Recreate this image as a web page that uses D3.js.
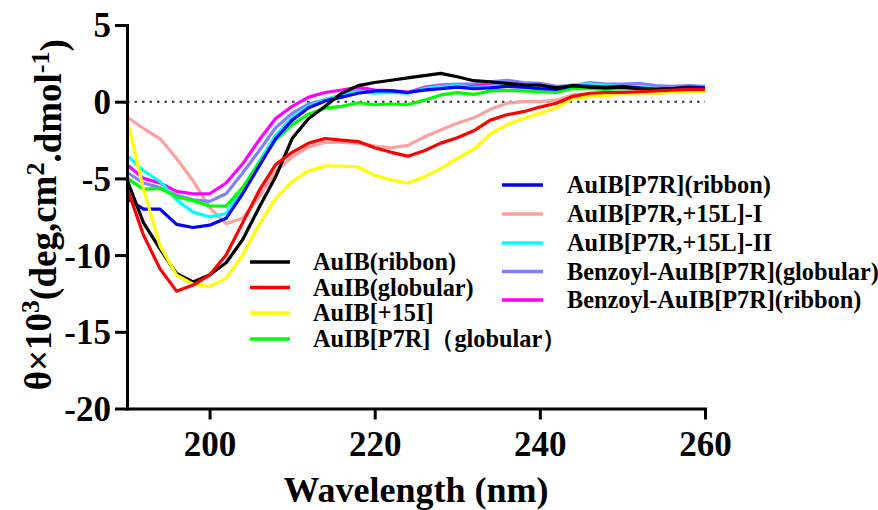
<!DOCTYPE html>
<html>
<head>
<meta charset="utf-8">
<script src="https://cdn.jsdelivr.net/npm/d3@7"></script>
<style>
  html, body { margin: 0; padding: 0; background: #fff; }
  svg text { font-family: "Liberation Serif", "Times New Roman", serif; font-weight: bold; fill: #000; }
</style>
</head>
<body>
<svg id="chart" width="878" height="510"></svg>
<script>
// ---- data ----
const wavelengths = [190,192,194,196,198,200,202,204,206,208,210,212,214,216,218,220,222,224,226,228,230,232,234,236,238,240,242,244,246,248,250,252,254,256,258,260];

const auibRibbon = [-5.1,-7.9,-9.6,-11.2,-11.75,-11.3,-10.5,-9.0,-6.9,-4.9,-2.4,-1.1,-0.3,0.55,1.05,1.25,1.4,1.55,1.7,1.85,1.63,1.37,1.3,1.2,1.1,1.09,0.9,1.05,0.95,0.9,0.95,0.85,0.8,0.85,0.9,0.85];
const auibGlobular = [-5.6,-8.7,-10.9,-12.35,-11.95,-11.3,-10.0,-7.9,-5.8,-4.1,-3.3,-2.7,-2.4,-2.5,-2.6,-3.0,-3.3,-3.55,-3.2,-2.7,-2.35,-1.9,-1.2,-0.85,-0.65,-0.35,-0.1,0.35,0.55,0.6,0.6,0.65,0.7,0.75,0.8,0.8];
const auib15I = [-1.1,-5.7,-9.4,-11.3,-11.9,-12.05,-11.5,-10.0,-8.0,-6.3,-5.2,-4.5,-4.2,-4.2,-4.25,-4.8,-5.1,-5.3,-4.9,-4.35,-3.7,-3.1,-2.1,-1.5,-1.1,-0.75,-0.4,0.2,0.35,0.4,0.5,0.55,0.55,0.6,0.65,0.65];
const p7rGlobular = [-5.0,-5.7,-5.65,-6.2,-6.45,-6.8,-6.8,-5.6,-4.0,-2.5,-1.5,-0.8,-0.42,-0.3,-0.07,-0.2,-0.15,-0.2,0.1,0.44,0.59,0.48,0.7,0.74,0.7,0.65,0.6,0.87,0.85,0.8,0.85,0.85,0.8,0.8,0.85,0.85];
const p7rRibbon = [-6.3,-7.0,-7.0,-8.0,-8.2,-8.05,-7.6,-6.0,-4.2,-2.4,-1.2,-0.4,0.05,0.3,0.55,0.7,0.7,0.6,0.75,0.85,0.95,0.85,0.9,1.0,0.95,0.85,0.8,1.05,1.0,0.95,1.0,0.9,0.8,0.85,0.95,0.9];
const p7r15L_I = [-1.0,-1.75,-2.4,-3.7,-5.15,-6.9,-7.95,-7.6,-6.2,-4.55,-3.6,-2.95,-2.65,-2.65,-2.7,-2.9,-3.0,-2.85,-2.3,-1.85,-1.4,-1.05,-0.5,-0.1,0.0,0.0,0.1,0.45,0.5,0.55,0.65,0.6,0.55,0.6,0.65,0.7];
const p7r15L_II = [-3.5,-4.5,-5.2,-6.4,-7.2,-7.5,-7.3,-5.7,-3.9,-2.2,-1.0,-0.3,0.15,0.4,0.65,0.55,0.6,0.55,0.85,1.0,1.05,0.9,1.0,1.05,0.95,0.87,0.87,1.1,1.15,1.05,1.0,0.95,0.85,0.85,0.9,0.9];
const benzGlobular = [-4.6,-5.3,-5.6,-6.1,-6.4,-6.5,-6.0,-4.65,-3.2,-1.7,-0.75,-0.15,0.12,0.45,0.75,0.7,0.65,0.55,0.95,1.1,1.15,1.15,1.3,1.4,1.25,1.2,1.0,1.05,1.24,1.15,1.15,1.2,1.05,1.0,1.05,1.0];
const benzRibbon = [-4.1,-5.0,-5.3,-5.85,-6.0,-6.0,-5.3,-4.05,-2.5,-1.1,-0.3,0.3,0.6,0.76,0.95,0.76,0.72,0.62,0.9,1.04,0.98,0.98,1.15,1.0,0.96,0.98,0.81,1.05,1.05,0.98,0.94,0.9,0.8,0.85,0.87,0.81];

const seriesNames = ["AuIB(ribbon)","AuIB(globular)","AuIB[+15I]","AuIB[P7R]（globular）","AuIB[P7R](ribbon)","AuIB[P7R,+15L]-I","AuIB[P7R,+15L]-II","Benzoyl-AuIB[P7R](globular)","Benzoyl-AuIB[P7R](ribbon)"];
const seriesColors = ["#000000","#ff0000","#ffff00","#00ff00","#0000ff","#ffa0a0","#00ffff","#8080ff","#ff00ff"];
const seriesValues = [auibRibbon, auibGlobular, auib15I, p7rGlobular, p7rRibbon, p7r15L_I, p7r15L_II, benzGlobular, benzRibbon];

const xTicks = [200, 220, 240, 260];
const yTicks = [-20, -15, -10, -5, 0, 5];

// ---- layout ----
const svg = d3.select("#chart");
const x = d3.scaleLinear().domain([190, 260]).range([127, 705]);
const y = d3.scaleLinear().domain([-20, 5]).range([408.5, 25]);

// zero dotted line
svg.append("line")
  .attr("x1", x(190)).attr("x2", x(260))
  .attr("y1", y(0)).attr("y2", y(0))
  .attr("stroke", "#333").attr("stroke-width", 2)
  .attr("stroke-dasharray", "2.5,5");

// lines
const line = d3.line().x((d, i) => x(wavelengths[i])).y(d => y(d));
const drawOrder = [5, 7, 8, 6, 3, 4, 0, 2, 1];
drawOrder.forEach(k => {
  svg.append("path")
    .datum(seriesValues[k])
    .attr("fill", "none")
    .attr("stroke", seriesColors[k])
    .attr("stroke-width", 3.2)
    .attr("stroke-linejoin", "round")
    .attr("d", line);
});

// axes
const yAxis = svg.append("g").attr("transform", `translate(${x(190)},0)`)
  .call(d3.axisLeft(y).tickValues(yTicks).tickSize(12).tickPadding(4).tickSizeOuter(0));
const xAxis = svg.append("g").attr("transform", `translate(0,${y(-20)})`)
  .call(d3.axisBottom(x).tickValues(xTicks).tickSize(11).tickPadding(12).tickSizeOuter(0));
[yAxis, xAxis].forEach(g => {
  g.select(".domain").attr("stroke", "#000").attr("stroke-width", 3).attr("stroke-linecap", "square");
  g.selectAll(".tick line").attr("stroke", "#000").attr("stroke-width", 3);
  g.selectAll(".tick text").style("font-size", "35px").style("font-family", "'Liberation Serif', serif").style("font-weight", "bold");
});
yAxis.selectAll(".tick text").text(d => d < 0 ? "-" + Math.abs(d) : d).attr("dy", "0.34em");

// axis titles
svg.append("text")
  .attr("x", (x(190) + x(260)) / 2).attr("y", 502)
  .attr("text-anchor", "middle").style("font-size", "36px")
  .text("Wavelength (nm)");

const yl = svg.append("text")
  .attr("transform", `translate(51,${(y(5) + y(-20)) / 2 - 2}) rotate(-90)`)
  .attr("text-anchor", "middle").style("font-size", "37px");
yl.append("tspan").text("θ×10");
yl.append("tspan").attr("dy", "-0.45em").style("font-size", "26px").text("3");
yl.append("tspan").attr("dy", "0.45em").text("(deg,cm");
yl.append("tspan").attr("dy", "-0.45em").style("font-size", "26px").text("2");
yl.append("tspan").attr("dy", "0.45em").text(".dmol");
yl.append("tspan").attr("dy", "-0.45em").style("font-size", "26px").text("-1");
yl.append("tspan").attr("dy", "0.45em").text(")");

// legends
const leg1 = { idx: [0, 1, 2, 3], x0: 250, x1: 290, tx: 313, ys: [262, 287.5, 313, 339] };
const leg2 = { idx: [4, 5, 6, 7, 8], x0: 502, x1: 543, tx: 567, ys: [185, 214, 243, 271.5, 300] };
[leg1, leg2].forEach(L => {
  L.idx.forEach((k, j) => {
    svg.append("line")
      .attr("x1", L.x0).attr("x2", L.x1).attr("y1", L.ys[j]).attr("y2", L.ys[j])
      .attr("stroke", seriesColors[k]).attr("stroke-width", 3.5);
    svg.append("text")
      .attr("x", L.tx).attr("y", L.ys[j] + 8)
      .style("font-size", "24.3px")
      .text(seriesNames[k]);
  });
});
</script>
</body>
</html>
